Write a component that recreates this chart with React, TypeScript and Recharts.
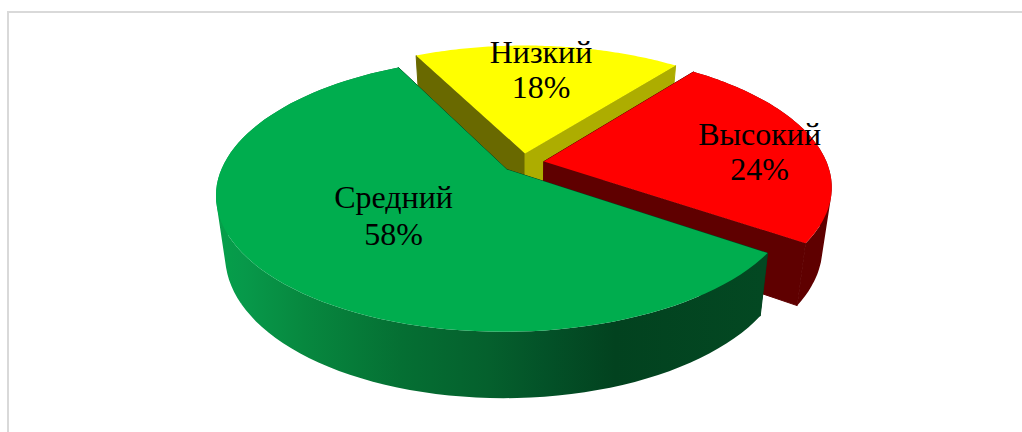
import { PieChart, Pie } from "recharts";

const CATEGORIES = ["Низкий", "Высокий", "Средний"];
const VALUES = [18, 24, 58];

const TOP_COLORS: Record<string, string> = {
  Низкий: "#ffff00",
  Высокий: "#ff0000",
  Средний: "#00ad4e",
};

// start wall, end wall, rim
const WALL_COLORS: Record<string, string[]> = {
  Низкий: ["#696900", "#adad00", "none"],
  Высокий: ["#5f0000", "#5f0000", "#5f0000"],
  Средний: ["#02421f", "#02421f", "url(#greenRim)"],
};

const GREEN_RIM_STOPS: [number, string][] = [
  [0, "#05a04a"],
  [0.05, "#07994a"],
  [0.16, "#07883f"],
  [0.34, "#056f33"],
  [0.5, "#05602d"],
  [0.6, "#035228"],
  [0.73, "#02421f"],
  [1, "#034822"],
];

const LABEL_PLACE: Record<string, { r: number; dx: number; dy: number; gap: number }> = {
  Низкий: { r: 0.735, dx: -1.5, dy: 0, gap: 35 },
  Высокий: { r: 0.78, dx: 3, dy: 7, gap: 35 },
  Средний: { r: 0.5, dx: 2, dy: 0, gap: 37 },
};

const data = CATEGORIES.map((name, i) => ({ name, value: VALUES[i] }));

const RAD = Math.PI / 180;
const SQUASH = 0.461;
const PERSPECTIVE = 0.18;
const EXPLODE = 0.075;
const DEPTH_BASE = 58;
const DEPTH_SLOPE = 8;
const BOTTOM_SCALE = 0.97;

type Pt = { x: number; y: number };

// disc coordinates -> screen, the lower edge is dropped by the wall depth
const project = (cx: number, cy: number, rx: number, u: number, v: number, lower = false): Pt => {
  const w = 1 - PERSPECTIVE * v;
  const drop = lower ? DEPTH_BASE + DEPTH_SLOPE * v : 0;
  const sx = lower ? BOTTOM_SCALE : 1;
  return {
    x: cx + (sx * rx * u) / w,
    y: cy + (rx * SQUASH * v) / w + drop,
  };
};

const toPath = (pts: Pt[]) =>
  pts.map((p, i) => `${i ? "L" : "M"}${p.x.toFixed(1)} ${p.y.toFixed(1)}`).join(" ") + " Z";

// rim as a union of same-winding quads, so the silhouette of the wall is filled
const rimPath = (top: Pt[], bottom: Pt[]) => {
  const quads: string[] = [];
  for (let i = 0; i < top.length - 1; i++) {
    const q = [top[i], top[i + 1], bottom[i + 1], bottom[i]];
    let area = 0;
    q.forEach((p, j) => {
      const n = q[(j + 1) % 4];
      area += p.x * n.y - n.x * p.y;
    });
    quads.push(toPath(area < 0 ? q.reverse() : q));
  }
  return quads.join(" ");
};

const Slice3D = (props: any) => {
  const { cx, cy, outerRadius: rx, startAngle, endAngle, midAngle } = props;
  const name = props.name ?? props.payload?.name;
  const ox = EXPLODE * Math.cos(midAngle * RAD);
  const oy = -EXPLODE * Math.sin(midAngle * RAD);

  const steps = 90;
  const rim = Array.from({ length: steps + 1 }, (_, i) => {
    const a = (startAngle + ((endAngle - startAngle) * i) / steps) * RAD;
    return { u: ox + Math.cos(a), v: oy - Math.sin(a) };
  });

  const top = rim.map((p) => project(cx, cy, rx, p.u, p.v));
  const bottom = rim.map((p) => project(cx, cy, rx, p.u, p.v, true));
  const apexTop = project(cx, cy, rx, ox, oy);
  const apexBottom = project(cx, cy, rx, ox, oy, true);
  const walls = WALL_COLORS[name];

  return (
    <g>
      <defs>
        <linearGradient id="greenRim" gradientUnits="userSpaceOnUse" x1={216} y1={0} x2={763} y2={0}>
          {GREEN_RIM_STOPS.map(([o, c]) => (
            <stop key={o} offset={o} stopColor={c} />
          ))}
        </linearGradient>
      </defs>
      <path d={toPath([apexTop, top[0], bottom[0], apexBottom])} fill={walls[0]} stroke={walls[0]} />
      <path d={toPath([apexTop, top[steps], bottom[steps], apexBottom])} fill={walls[1]} stroke={walls[1]} />
      <path d={rimPath(top, bottom)} fill={walls[2]} />
      <path d={toPath([apexTop, ...top])} fill={TOP_COLORS[name]} />
    </g>
  );
};

const renderLabel = (props: any) => {
  const { cx, cy, outerRadius: rx, midAngle, value } = props;
  const name = props.name ?? props.payload?.name;
  const place = LABEL_PLACE[name];
  const r = place.r + EXPLODE;
  const p = project(cx, cy, rx, r * Math.cos(midAngle * RAD), -r * Math.sin(midAngle * RAD));
  const x = p.x + place.dx;
  return (
    <text
      x={x}
      y={p.y + place.dy}
      textAnchor="middle"
      fontFamily="'Liberation Serif', serif"
      fontSize={32}
      fill="#000000"
    >
      <tspan x={x} dy={-8}>{name}</tspan>
      <tspan x={x} dy={place.gap}>{value}%</tspan>
    </text>
  );
};

export default function App() {
  return (
    <div style={{ position: "absolute", left: 0, top: 0, width: 1022, height: 432, background: "#fff", overflow: "hidden" }}>
      <div
        style={{
          position: "absolute",
          left: 7,
          top: 11,
          width: 1015,
          height: 421,
          borderLeft: "2px solid #d9d9d9",
          borderTop: "2px solid #d9d9d9",
          boxSizing: "border-box",
        }}
      />
      <div style={{ position: "absolute", left: 0, top: 0 }}>
        <PieChart width={1022} height={432} margin={{ top: 0, right: 0, bottom: 0, left: 0 }}>
          <Pie
            data={data}
            dataKey="value"
            nameKey="name"
            cx={523}
            cy={163}
            outerRadius={283}
            startAngle={116.8}
            endAngle={-243.2}
            stroke="none"
            shape={Slice3D}
            label={renderLabel}
            labelLine={false}
            isAnimationActive={false}
          />
        </PieChart>
      </div>
    </div>
  );
}
